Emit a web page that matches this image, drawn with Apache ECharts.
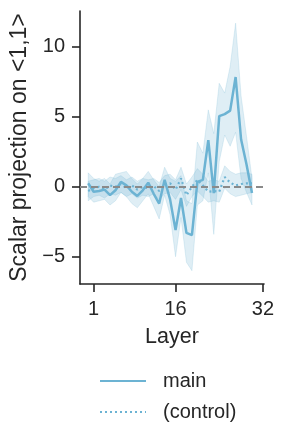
<!DOCTYPE html>
<html><head><meta charset="utf-8">
<script src="https://cdn.jsdelivr.net/npm/echarts@6/dist/echarts.min.js"></script>
<style>html,body{margin:0;padding:0;background:#fff}#c{width:287px;height:443px}</style>
</head><body><div id="c"></div>
<script>
const layers = [0,1,2,3,4,5,6,7,8,9,10,11,12,13,14,15,16,17,18,19,20,21,22,23,24,25,26,27,28,29,30];
const mainMean = [0.25,-0.35,-0.3,-0.2,-0.6,-0.25,0.35,0.1,-0.35,-0.65,-0.25,0.3,-0.5,-1.2,0.5,-0.9,-3.1,-0.8,-3.3,-3.45,0.35,0.5,3.33,-0.45,5.05,5.2,5.45,7.85,3.4,1.6,-0.45];
const mainUpper = [1.0,0.6,0.4,0.6,0.2,0.9,1.0,1.1,0.6,0.2,0.6,1.1,0.5,0.0,1.4,0.6,0.4,0.8,-1.0,-1.2,3.2,2.4,5.5,3.8,7.4,6.7,8.6,11.7,6.5,3.6,0.6];
const mainLower = [-0.7,-1.1,-1.0,-0.9,-1.3,-1.0,-0.4,-0.7,-1.2,-1.5,-1.0,-0.5,-1.4,-2.3,-0.6,-2.0,-5.0,-2.2,-5.4,-6.0,-1.3,-1.0,1.0,-3.4,1.8,3.7,2.9,3.9,0.6,-0.4,-1.3];
const ctrlMean = [-0.3,-0.1,0.0,-0.2,0.1,0.0,0.2,-0.1,0.1,-0.2,0.0,-0.1,0.05,-0.3,0.15,0.25,-0.2,0.6,-0.6,0.0,0.5,0.1,-0.35,-0.3,-0.35,0.7,0.3,0.1,0.2,0.25,0.25];
const ctrlUpper = [0.4,0.5,0.6,0.4,0.7,0.6,0.8,0.5,0.7,0.4,0.6,0.5,0.6,0.3,0.8,0.9,0.5,1.4,0.2,0.7,1.3,0.9,0.4,0.5,0.4,1.5,1.1,0.9,1.0,1.0,0.9];
const ctrlLower = [-1.0,-0.7,-0.6,-0.8,-0.5,-0.6,-0.4,-0.7,-0.5,-0.8,-0.6,-0.7,-0.5,-0.9,-0.5,-0.4,-0.9,-0.2,-1.4,-0.7,-0.3,-0.7,-1.1,-1.0,-1.1,-0.1,-0.5,-0.7,-0.6,-0.5,-0.4];
const xTicks = [1,16,32];
const yTicks = [-5,0,5,10];
const seriesNames = ['main','(control)'];

const color = '#6cb3d3';
const axisColor = '#262626';
const font = 'Liberation Sans, Arial, sans-serif';

function band(upper, lower, fill) {
  return {
    type: 'custom',
    silent: true,
    z: 1,
    data: [0],
    renderItem: function (params, api) {
      const pts = [];
      for (let i = 0; i < layers.length; i++) pts.push(api.coord([layers[i], upper[i]]));
      for (let i = layers.length - 1; i >= 0; i--) pts.push(api.coord([layers[i], lower[i]]));
      return { type: 'polygon', shape: { points: pts }, style: { fill: fill, stroke: 'rgba(108,179,211,0.25)', lineWidth: 0.8 } };
    }
  };
}

const chart = echarts.init(document.getElementById('c'), null, { renderer: 'canvas' });
chart.setOption({
  animation: false,
  backgroundColor: '#fff',
  grid: { left: 80, top: 11, right: 23, bottom: 159, containLabel: false },
  xAxis: {
    type: 'value', min: -1.5, max: 32.2,
    name: 'Layer', nameLocation: 'middle', nameGap: 42,
    nameTextStyle: { fontFamily: font, fontSize: 21.5, color: axisColor },
    axisLine: { show: true, onZero: false, lineStyle: { color: axisColor, width: 1.6 } },
    axisTick: { show: true, length: 8, lineStyle: { color: axisColor, width: 1.6 }, customValues: xTicks },
    axisLabel: { fontFamily: font, fontSize: 20, color: axisColor, margin: 15, customValues: xTicks },
    splitLine: { show: false }
  },
  yAxis: {
    type: 'value', min: -6.95, max: 12.57,
    name: 'Scalar projection on <1,1>', nameLocation: 'middle', nameGap: 46, nameRotate: 90,
    nameTextStyle: { fontFamily: font, fontSize: 23, color: axisColor },
    axisLine: { show: true, onZero: false, lineStyle: { color: axisColor, width: 1.6 } },
    axisTick: { show: true, length: 8, lineStyle: { color: axisColor, width: 1.6 }, customValues: yTicks },
    axisLabel: { fontFamily: font, fontSize: 20, color: axisColor, margin: 15, customValues: yTicks,
      formatter: v => String(v).replace('-', '\u2212') },
    splitLine: { show: false }
  },
  legend: {
    orient: 'vertical', left: 94, top: 366, itemWidth: 46, itemHeight: 14, itemGap: 11,
    itemStyle: { color: 'rgba(0,0,0,0)', opacity: 0, borderWidth: 0 },
    textStyle: { fontFamily: font, fontSize: 20, color: axisColor, padding: [0, 0, 0, 12] },
    data: seriesNames
  },
  series: [
    band(mainUpper, mainLower, 'rgba(108,179,211,0.22)'),
    band(ctrlUpper, ctrlLower, 'rgba(108,179,211,0.22)'),
    {
      name: seriesNames[1], type: 'line', symbol: 'none', z: 3,
      data: layers.map((x, i) => [x, ctrlMean[i]]),
      lineStyle: { color: color, width: 2.2, type: [2, 3] },
      itemStyle: { color: color }
    },
    {
      name: seriesNames[0], type: 'line', symbol: 'none', z: 4,
      data: layers.map((x, i) => [x, mainMean[i]]),
      lineStyle: { color: color, width: 2.5 },
      itemStyle: { color: color },
      markLine: {
        silent: true, symbol: 'none', label: { show: false }, z: 5,
        lineStyle: { color: '#8a8a8a', width: 2.2, type: [7, 4] },
        data: [{ yAxis: 0 }]
      }
    }
  ]
});
</script></body></html>
